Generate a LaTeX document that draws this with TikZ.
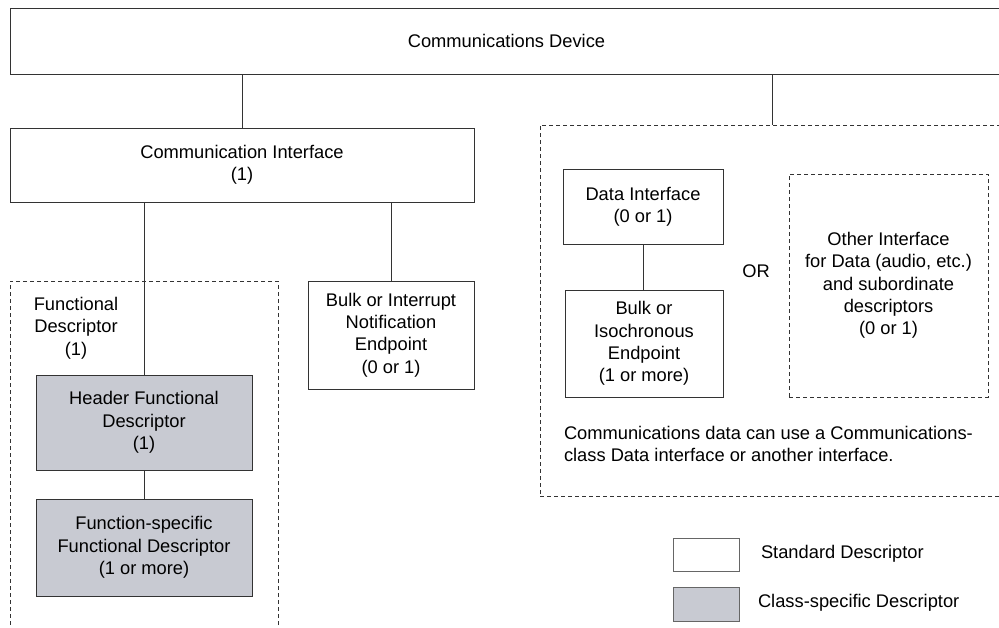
\documentclass[tikz,border=0pt]{standalone}
\usepackage{fontspec}
\setmainfont{Liberation Sans}
\definecolor{clsgray}{HTML}{C8CAD2}
\definecolor{edge}{HTML}{333333}
\begin{document}
\begin{tikzpicture}[x=1pt,y=-1pt,
  every node/.style={font=\fontsize{18.3}{22.3}\selectfont, inner sep=0pt, outer sep=0pt, align=center},
  box/.style={draw=edge, line width=0.9pt, fill=white},
  clsbox/.style={draw=edge, line width=0.9pt, fill=clsgray},
  group/.style={draw=edge, line width=0.8pt, dash pattern=on 4pt off 3pt},
  conn/.style={draw=edge, line width=0.9pt},
  legbox/.style={draw=black!60, line width=0.9pt}]
\useasboundingbox (0,0) rectangle (999,627);
\clip (0,0) rectangle (999,627);

% groups
\node[group, minimum width=268pt, minimum height=370pt] (fdgroup) at (144,466) {};
\node[group, minimum width=465pt, minimum height=371pt] (rg) at (772.5,310.5) {};

% nodes
\node[box, minimum width=993pt, minimum height=66pt] (dev) at (506.5,41) {Communications Device};
\node[box, minimum width=464pt, minimum height=74pt] (ci) at (242,165) {Communication Interface\\(1)};
\node[box, minimum width=166pt, minimum height=108pt] (bin) at (391,335) {Bulk or Interrupt\\Notification\\Endpoint\\(0 or 1)};
\node (fdlabel) at (76,328) {Functional\\Descriptor\\(1)};
\node[clsbox, minimum width=216pt, minimum height=95pt] (hfd) at (144,422.5) {Header Functional\\Descriptor\\(1)};
\node[clsbox, minimum width=216pt, minimum height=97pt] (fsfd) at (144,547.5) {Function-specific\\Functional Descriptor\\(1 or more)};

\node[box, minimum width=160pt, minimum height=75pt] (di) at (643,206.5) {Data Interface\\(0 or 1)};
\node[box, minimum width=158pt, minimum height=107pt] (bie) at (644,343.5) {Bulk or\\Isochronous\\Endpoint\\(1 or more)};
\node (or) at (756,271) {OR};
\node[group, minimum width=199pt, minimum height=223pt] (other) at (888.5,285.5) {Other Interface\\for Data (audio, etc.)\\and subordinate\\descriptors\\(0 or 1)};
\node[anchor=west, align=left] (note) at (564,444) {Communications data can use a Communications-\\class Data interface or another interface.};

% legend
\node[legbox, fill=white, minimum width=66pt, minimum height=33pt] (legstd) at (706,554.5) {};
\node[anchor=west] (legstdtxt) at (761,554) {Standard Descriptor};
\node[legbox, fill=clsgray, minimum width=66pt, minimum height=34pt] (legcls) at (706,604) {};
\node[anchor=west] (legclstxt) at (758,603) {Class-specific Descriptor};

% connectors
\draw[conn] (ci.north |- dev.south) -- (ci.north);
\draw[conn] (rg.north |- dev.south) -- (rg.north);
\draw[conn] (hfd.north |- ci.south) -- (hfd.north);
\draw[conn] (bin.north |- ci.south) -- (bin.north);
\draw[conn] (hfd.south) -- (fsfd.north);
\draw[conn] (di.south) -- (di.south |- bie.north);
\end{tikzpicture}
\end{document}
